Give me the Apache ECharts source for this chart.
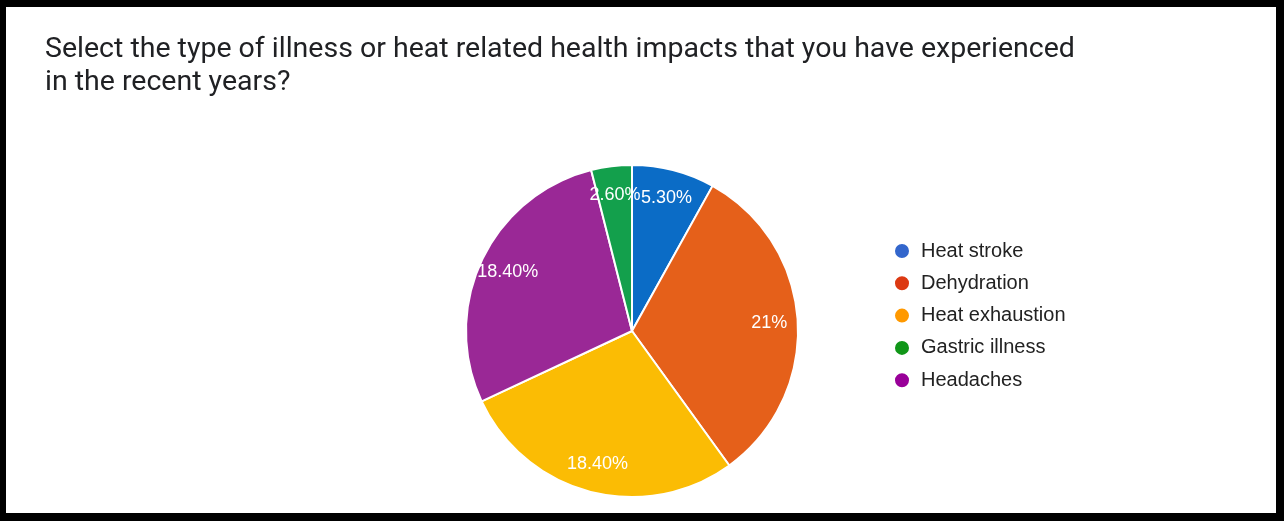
<!DOCTYPE html>
<html>
<head>
<meta charset="utf-8">
<script src="https://cdn.jsdelivr.net/npm/echarts@6/dist/echarts.min.js"></script>
<style>
html,body{margin:0;padding:0;background:#000;}
#frame{position:absolute;left:0;top:0;width:1284px;height:521px;background:#000;}
#chart{position:absolute;left:6px;top:7px;width:1270px;height:506px;background:#fff;}
</style>
</head>
<body>
<div id="frame"><div id="chart"></div></div>
<script>
const titleText = 'Select the type of illness or heat related health impacts that you have experienced\nin the recent years?';
// legend order
const categories = ['Heat stroke', 'Dehydration', 'Heat exhaustion', 'Gastric illness', 'Headaches'];
const legendColors = ['#3366cc', '#dc3912', '#ff9900', '#109618', '#990099'];
// slice order (clockwise from 12 o'clock)
const sliceNames = ['Heat stroke', 'Dehydration', 'Heat exhaustion', 'Headaches', 'Gastric illness'];
const sliceValues = [5.3, 21, 18.4, 18.4, 2.6];
const sliceLabels = ['5.30%', '21%', '18.40%', '18.40%', '2.60%'];
const sliceColors = ['#0b6cc6', '#e5601a', '#fbbc04', '#9a2896', '#13a04c'];

const chart = echarts.init(document.getElementById('chart'), null, {renderer: 'canvas'});
const R = 166;
const cx = 632 - 6, cy = 331 - 7;

const visibleData = sliceNames.map((c, i) => ({name: c, value: sliceValues[i], itemStyle: {color: sliceColors[i]}}));
const labelData = sliceNames.map((c, i) => ({name: c, value: sliceValues[i], label: {formatter: sliceLabels[i]}}));

chart.setOption({
  animation: false,
  title: {
    text: titleText,
    left: 34, top: 21,
    textStyle: {fontFamily: 'Roboto', fontSize: 28.5, fontWeight: 'normal', color: '#202124', lineHeight: 33}
  },
  legend: {
    orient: 'vertical',
    left: 882, top: 229,
    padding: 5,
    icon: 'circle',
    itemWidth: 16, itemHeight: 16, itemGap: 12.3,
    selectedMode: false,
    textStyle: {fontFamily: 'Liberation Sans', fontSize: 20, lineHeight: 20, color: '#222', padding: [0, 0, 0, 6]},
    data: categories.map((c, i) => ({name: c, itemStyle: {color: legendColors[i]}}))
  },
  series: [
    {
      type: 'pie',
      center: [cx, cy],
      radius: [0, R],
      startAngle: 90,
      clockwise: true,
      label: {show: false},
      labelLine: {show: false},
      itemStyle: {borderColor: '#fff', borderWidth: 2},
      emphasis: {disabled: true},
      data: visibleData
    },
    {
      type: 'pie',
      center: [cx, cy],
      radius: [R * 0.62, R],
      startAngle: 90,
      clockwise: true,
      silent: true,
      avoidLabelOverlap: false,
      legendHoverLink: false,
      itemStyle: {color: 'rgba(0,0,0,0)', borderWidth: 0},
      label: {show: true, position: 'inside', color: '#fff', fontFamily: 'Liberation Sans', fontSize: 18},
      labelLine: {show: false},
      labelLayout: {hideOverlap: false},
      emphasis: {disabled: true},
      data: labelData
    }
  ]
});
</script>
</body>
</html>
